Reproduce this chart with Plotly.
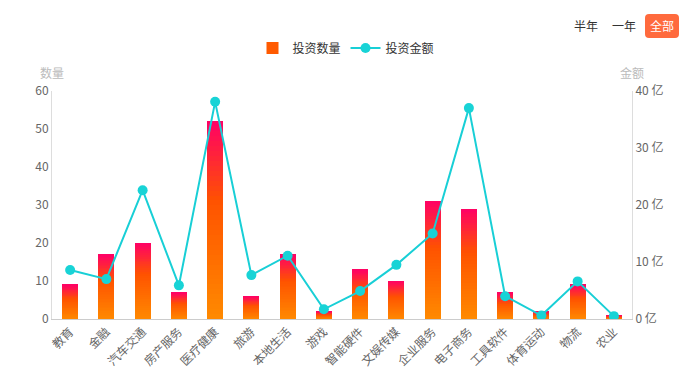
import plotly.graph_objects as go
from plotly.colors import sample_colorscale

categories = ["教育", "金融", "汽车交通", "房产服务", "医疗健康", "旅游", "本地生活", "游戏",
              "智能硬件", "文娱传媒", "企业服务", "电子商务", "工具软件", "体育运动", "物流", "农业"]
counts = [9, 17, 20, 7, 52, 6, 17, 2, 13, 10, 31, 29, 7, 2, 9, 1]
amounts = [8.6, 7.0, 22.6, 5.9, 38.1, 7.7, 11.1, 1.7, 4.9, 9.5, 15.0, 37.0, 4.0, 0.6, 6.6, 0.5]
left_ticks = [0, 10, 20, 30, 40, 50, 60]
right_ticks = [0, 10, 20, 30, 40]
range_buttons = ["半年", "一年", "全部"]

FONT = "Noto Sans CJK SC, Noto Sans, sans-serif"
grad = [[0.0, "#ff8a00"], [0.6, "#ff5200"], [1.0, "#ff0066"]]
N = 40

# page body has an 8px default margin; plot area target: x 52..632, y 91..319
OFF = 8
PL, PR, PT, PB = 52, 632, 91, 319


def px_x(p):
    return (p - PL) / (PR - PL)


def px_y(p):
    return (PB - p) / (PB - PT)


fig = go.Figure()
for k in range(N):
    f = (k + 0.5) / N
    col = sample_colorscale(grad, [f])[0]
    fig.add_trace(go.Bar(
        x=categories, y=[v / N for v in counts],
        marker=dict(color=col, line=dict(width=0)),
        name="投资数量", legendgroup="bar",
        showlegend=(k == N // 2),
        hoverinfo="skip" if k else None,
        width=0.44,
    ))

fig.add_trace(go.Scatter(
    x=categories, y=amounts, yaxis="y2", name="投资金额",
    mode="lines+markers",
    line=dict(color="#18cfd6", width=2),
    marker=dict(color="#18d3d6", size=10),
))

W, H = 692 - OFF, 380 - OFF
fig.update_layout(
    width=W, height=H,
    margin=dict(l=PL - OFF, r=692 - PR, t=PT - OFF, b=380 - PB, autoexpand=False),
    paper_bgcolor="white", plot_bgcolor="white",
    barmode="stack", bargap=0.56,
    font=dict(family=FONT, size=12, color="#666"),
    showlegend=True,
    legend=dict(orientation="h", x=px_x(346), xanchor="center", y=px_y(48), yanchor="middle",
                traceorder="normal", font=dict(size=12, color="#333"),
                itemwidth=30),
    xaxis=dict(type="category", range=[-0.5, len(categories) - 0.5], tickangle=-45,
               showline=True, linecolor="#cccccc",
               linewidth=1, ticks="", showgrid=False, automargin=False,
               tickfont=dict(size=12, color="#666")),
    yaxis=dict(range=[0, 60], tickvals=left_ticks, showline=True, linecolor="#dddddd",
               linewidth=1, showgrid=False, zeroline=False, ticks="", automargin=False,
               tickfont=dict(size=12, color="#666")),
    yaxis2=dict(range=[0, 40], tickvals=right_ticks, ticktext=[f"{t} 亿" for t in right_ticks],
                overlaying="y", side="right", showline=True, linecolor="#dddddd",
                linewidth=1, showgrid=False, zeroline=False, ticks="", automargin=False,
                tickfont=dict(size=12, color="#666")),
)

fig.add_annotation(text="数量", xref="paper", yref="paper", x=0, y=px_y(72),
                   xanchor="center", yanchor="middle",
                   showarrow=False, font=dict(size=12, color="#bbbbbb"))
fig.add_annotation(text="金额", xref="paper", yref="paper", x=1, y=px_y(72),
                   xanchor="center", yanchor="middle",
                   showarrow=False, font=dict(size=12, color="#bbbbbb"))

# rounded background of the active range button
bx0, bx1, by0, by1, r = 645, 679, 14, 38, 4
path = (f"M {px_x(bx0 + r)},{px_y(by0)} L {px_x(bx1 - r)},{px_y(by0)} "
        f"Q {px_x(bx1)},{px_y(by0)} {px_x(bx1)},{px_y(by0 + r)} "
        f"L {px_x(bx1)},{px_y(by1 - r)} Q {px_x(bx1)},{px_y(by1)} {px_x(bx1 - r)},{px_y(by1)} "
        f"L {px_x(bx0 + r)},{px_y(by1)} Q {px_x(bx0)},{px_y(by1)} {px_x(bx0)},{px_y(by1 - r)} "
        f"L {px_x(bx0)},{px_y(by0 + r)} Q {px_x(bx0)},{px_y(by0)} {px_x(bx0 + r)},{px_y(by0)} Z")
fig.add_shape(type="path", xref="paper", yref="paper", path=path,
              fillcolor="#ff6a3d", line=dict(width=0), layer="below")

btn_x = [586, 624, 662]
for i, (lbl, p) in enumerate(zip(range_buttons, btn_x)):
    active = i == len(range_buttons) - 1
    fig.add_annotation(
        text=lbl, xref="paper", yref="paper",
        x=px_x(p), y=px_y(26), xanchor="center", yanchor="middle",
        showarrow=False,
        font=dict(size=12, color="white" if active else "#333"),
    )

fig.write_html("out.html")
